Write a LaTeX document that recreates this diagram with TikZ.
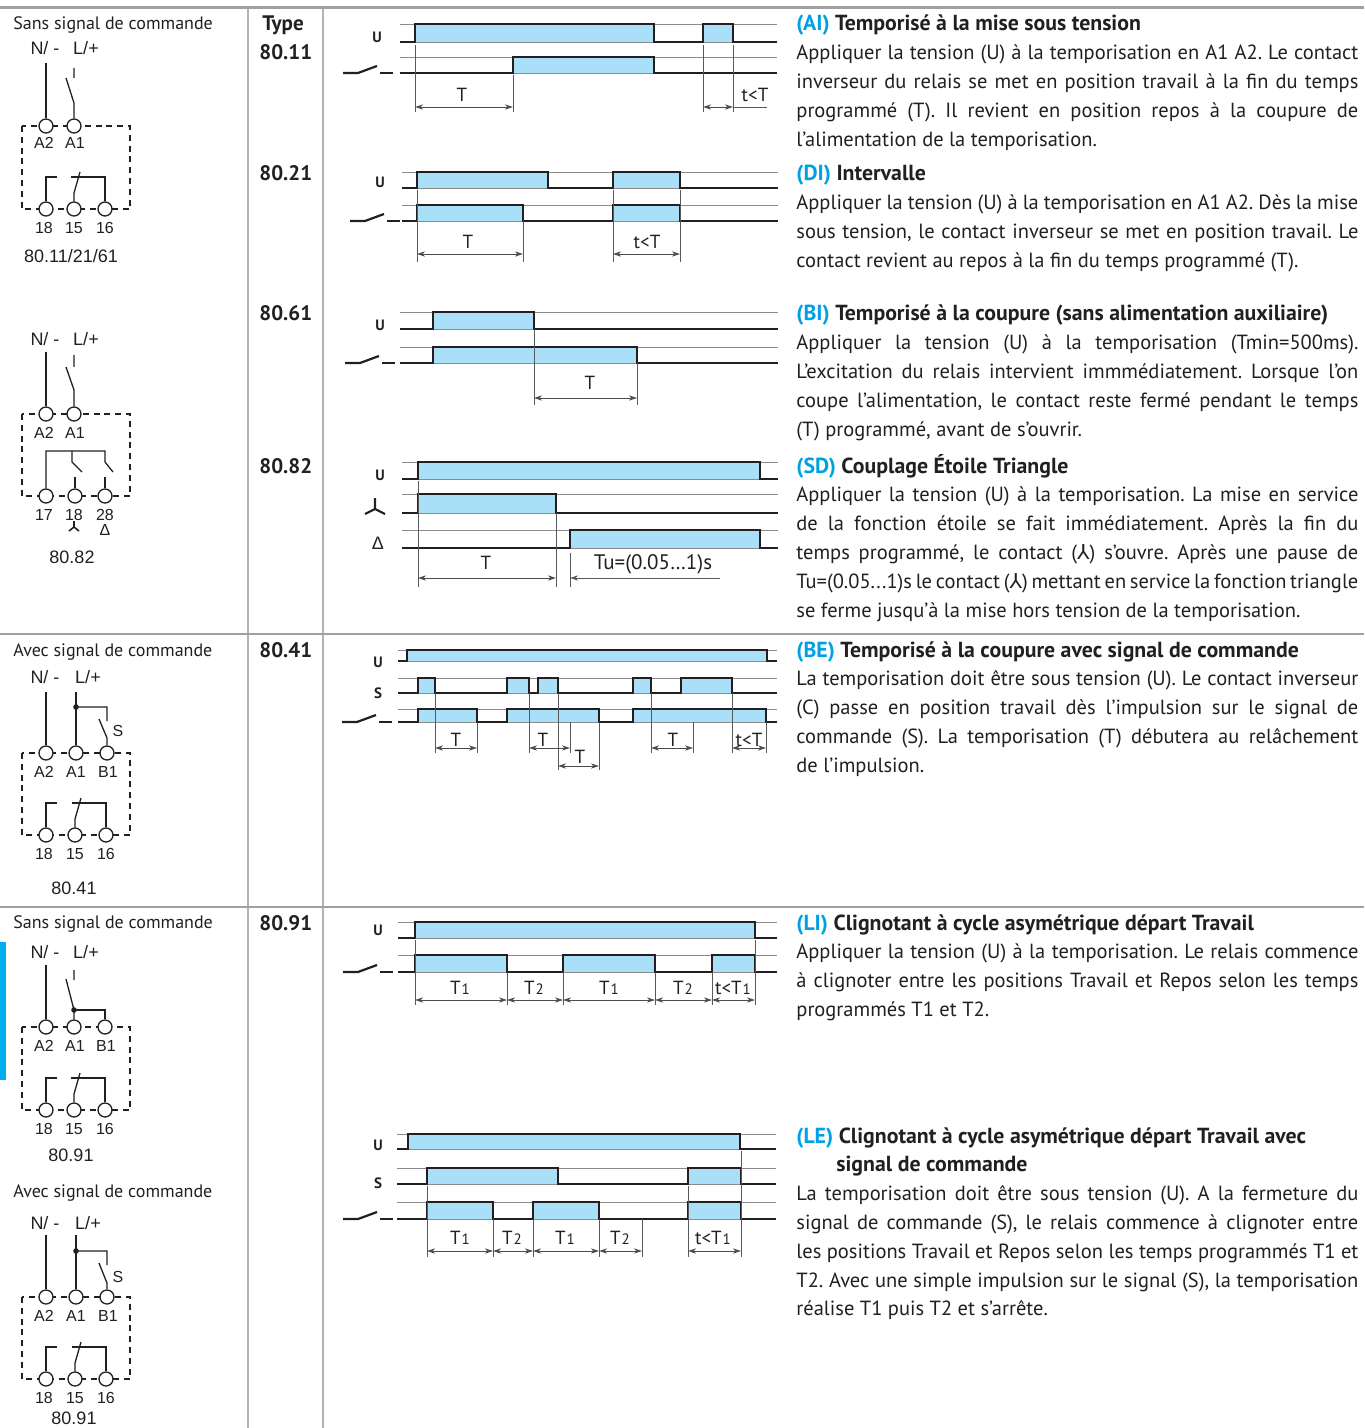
\documentclass[tikz,border=0pt]{standalone}
\usepackage{fontspec}
\setmainfont{PT Sans}
\newfontfamily\arialf{Liberation Sans}
\newfontfamily\djv{DejaVu Sans}
\usetikzlibrary{arrows.meta}
\definecolor{sigblue}{RGB}{170,223,248}
\definecolor{titblue}{RGB}{0,160,227}
\definecolor{rulegray}{RGB}{160,160,160}
\definecolor{txt}{RGB}{35,31,32}
\definecolor{barblue}{RGB}{0,174,239}
\tikzset{
  sigline/.style={line width=1.3pt, line join=miter, txt},
  refline/.style={line width=0.45pt, black!45},
  sigfill/.style={fill=sigblue},
  dimline/.style={line width=0.45pt, black!65},
  dimarr/.style={line width=0.45pt, black!70, {Stealth[length=4pt,width=2.6pt,inset=1.2pt]}-{Stealth[length=4pt,width=2.6pt,inset=1.2pt]}},
  tl/.style={inner sep=0pt, text=txt, font=\fontsize{9.5}{10}\selectfont},
  ul/.style={inner sep=0pt, text=txt, font=\bfseries\fontsize{7.5}{9}\selectfont},
  wire/.style={line width=0.65pt, txt},
  term/.style={circle, draw=txt, fill=white, line width=0.65pt, minimum size=7pt, inner sep=0pt},
  dashbox/.style={line width=1pt, txt, dash pattern=on 3pt off 2.4pt},
  clbl/.style={inner sep=0pt, text=txt, font=\arialf\fontsize{8}{9}\selectfont},
  cnl/.style={inner sep=0pt, text=txt, font=\arialf\fontsize{9}{10}\selectfont},
  hdr/.style={anchor=base west, inner sep=0pt, text=txt, font=\fontsize{9}{10}\selectfont},
  typ/.style={anchor=base west, inner sep=0pt, text=txt, font=\bfseries\fontsize{10.5}{12}\selectfont},
  rule/.style={line width=1.2pt, rulegray},
  vrule/.style={line width=0.6pt, rulegray!80},
}
\newcommand\trow[5]{%
  \foreach \pa/\pb in {#5}{\fill[sigfill] (\pa,#2) rectangle (\pb,#1);}
  \draw[refline] (#3,#2) -- (#4,#2) (#3,#1) -- (#4,#1);
  \draw[sigline] (#3,#1) \foreach \pa/\pb in {#5}{ -- (\pa,#1) -- (\pa,#2) -- (\pb,#2) -- (\pb,#1)} -- (#4,#1);
}
\newcommand\csym[2]{\draw[sigline, line width=1.1pt] (#1,#2) -- ++(15,0) -- ++(19,-7);
  \draw[sigline, line width=1.1pt] ({#1+37},#2) -- ++(13,0);}
\newcommand\darr[3]{\draw[dimarr] (#1,#3) -- (#2,#3);}
\newcommand\vl[3]{\draw[dimline] (#1,#2) -- (#1,#3);}
\newcommand\jl[1]{\hbox to\hsize{\spaceskip=0.26em plus 0.8em minus 0.12em #1}}
\newcommand\jls[1]{\hbox to\hsize{\spaceskip=0.14em plus 0.5em minus 0.05em #1}}
\newcommand\lastl[1]{\hbox{#1}}
\newcommand\ttl[2]{\hbox{\fontsize{10.9}{14.4}\selectfont\bfseries\textcolor{titblue}{(#1)} #2}}
\newcommand\para[2]{\node[anchor=base west, inner sep=0pt, text=txt] at (796,#1) {\vtop{\hsize=281pt \frenchspacing\fontsize{10.25}{14.4}\selectfont #2}};}
\newcommand\Tn[1]{T\kern0.5pt{\fontsize{7.5}{8}\selectfont #1}}
\newcommand\stsym{{\djv ⅄}}
% contacts 18/15/16: Yb, x18, x15, x16, prefix
\newcommand\cont[5]{%
  \node[term] (#5t18) at (#2,#1) {};
  \node[term] (#5t15) at (#3,#1) {};
  \node[term] (#5t16) at (#4,#1) {};
  \draw[wire] (#5t18.north) |- ({#2+11},{#1-32});
  \draw[wire] (#5t15.north) -- (#3,{#1-16}) -- ({#3+6},{#1-37});
  \draw[wire] ({#3-3},{#1-32}) -| (#5t16.north);
  \node[clbl] at ({#2-2},{#1+19}) {18};
  \node[clbl] at (#3,{#1+19}) {15};
  \node[clbl] at (#4,{#1+19}) {16};
}
\begin{document}
\begin{tikzpicture}[x=0.5pt,y=-0.5pt]
\useasboundingbox (0,0) rectangle (1364,1428);
% ---------- table rules ----------
\draw[vrule] (248,8) -- (248,1428);
\draw[vrule] (323,8) -- (323,1428);
\draw[rule, line width=1.5pt] (0,8) -- (1364,8);
\draw[rule] (0,634) -- (1364,634);
\draw[rule] (0,907) -- (1364,907);
\fill[barblue] (0,942) rectangle (6,1080);
% ---------- headers ----------
\node[hdr] at (13,30) {Sans signal de commande};
\node[hdr] at (13,656) {Avec signal de commande};
\node[hdr] at (13,928) {Sans signal de commande};
\node[hdr] at (13,1197) {Avec signal de commande};
\node[typ] at (262,31) {Type};
\node[typ] at (259,60) {80.11};
\node[typ] at (259,181) {80.21};
\node[typ] at (259,321) {80.61};
\node[typ] at (259,473) {80.82};
\node[typ] at (259,657) {80.41};
\node[typ] at (259,930) {80.91};
% ---------- circuit 1 ----------
\node[cnl] at (45,48) {N/ -};
\node[cnl] at (86,48) {L/+};
\draw[dashbox] (22,126) rectangle (130,209);
\node[term] (c1a2) at (46,126) {};
\node[term] (c1a1) at (74,126) {};
\draw[wire] (46,63) -- (c1a2.north);
\draw[wire] (74,68) -- (74,78) (66,78) -- (74,103) -- (c1a1.north);
\node[clbl] at (44,143) {A2};
\node[clbl] at (75,143) {A1};
\cont{209}{46}{74}{105}{c1}
\node[cnl] at (71,256) {80.11/21/61};
% ---------- circuit 2 ----------
\node[cnl] at (45,339) {N/ -};
\node[cnl] at (86,339) {L/+};
\draw[dashbox] (22,414) rectangle (130,496);
\node[term] (c2a2) at (46,414) {};
\node[term] (c2a1) at (74,414) {};
\draw[wire] (46,352) -- (c2a2.north);
\draw[wire] (74,355) -- (74,367) (66,367) -- (74,390) -- (c2a1.north);
\node[clbl] at (44,433) {A2};
\node[clbl] at (75,433) {A1};
\node[term] (c2t17) at (46,496) {};
\node[term] (c2t18) at (75,496) {};
\node[term] (c2t28) at (105,496) {};
\draw[wire] (c2t17.north) |- (105,451) -- (105,462) -- (113,472);
\draw[wire] (72,451) -- (72,462) -- (82,472);
\draw[wire] (c2t18.north) -- (75,477);
\draw[wire] (c2t28.north) -- (105,477);
\node[clbl] at (44,515) {17};
\node[clbl] at (74,515) {18};
\node[clbl] at (105,515) {28};
\draw[wire, line width=0.8pt] (74,521) -- (74,527) -- (69,531) (74,527) -- (79,531);
\node[clbl] at (105,530) {Δ};
\node[cnl] at (72,557) {80.82};
% ---------- circuit 3 ----------
\node[cnl] at (45,677) {N/ -};
\node[cnl] at (88,677) {L/+};
\draw[dashbox] (22,753) rectangle (130,835);
\node[term] (c3a2) at (46,753) {};
\node[term] (c3a1) at (76,753) {};
\node[term] (c3b1) at (107,753) {};
\draw[wire] (46,692) -- (c3a2.north);
\draw[wire] (76,692) -- (c3a1.north);
\fill[txt] (76,707) circle (1.4pt);
\draw[wire] (76,707) -- (107,707) -- (107,721) (99,719) -- (107,738) -- (c3b1.north);
\node[clbl] at (118,731) {S};
\node[clbl] at (44,772) {A2};
\node[clbl] at (76,772) {A1};
\node[clbl] at (108,772) {B1};
\cont{835}{46}{75}{106}{c3}
\node[cnl] at (74,888) {80.41};
% ---------- circuit 4 ----------
\node[cnl] at (45,952) {N/ -};
\node[cnl] at (86,952) {L/+};
\draw[dashbox] (22,1027) rectangle (130,1110);
\node[term] (c4a2) at (46,1027) {};
\node[term] (c4a1) at (74,1027) {};
\node[term] (c4b1) at (105,1027) {};
\draw[wire] (46,965) -- (c4a2.north);
\draw[wire] (74,970) -- (74,980) (66,979) -- (74,1010) -- (c4a1.north);
\fill[txt] (74,1010) circle (1.4pt);
\draw[wire] (74,1010) -| (c4b1.north);
\node[clbl] at (44,1046) {A2};
\node[clbl] at (75,1046) {A1};
\node[clbl] at (106,1046) {B1};
\cont{1110}{46}{74}{105}{c4}
\node[cnl] at (71,1155) {80.91};
% ---------- circuit 5 ----------
\node[cnl] at (45,1223) {N/ -};
\node[cnl] at (88,1223) {L/+};
\draw[dashbox] (22,1297) rectangle (130,1379);
\node[term] (c5a2) at (46,1297) {};
\node[term] (c5a1) at (76,1297) {};
\node[term] (c5b1) at (107,1297) {};
\draw[wire] (46,1235) -- (c5a2.north);
\draw[wire] (76,1235) -- (c5a1.north);
\fill[txt] (76,1251) circle (1.4pt);
\draw[wire] (76,1251) -- (107,1251) -- (107,1265) (99,1263) -- (107,1283) -- (c5b1.north);
\node[clbl] at (118,1277) {S};
\node[clbl] at (44,1316) {A2};
\node[clbl] at (76,1316) {A1};
\node[clbl] at (108,1316) {B1};
\cont{1379}{46}{75}{106}{c5}
\node[cnl] at (74,1418) {80.91};
% ---------- timing AI ----------
\node[ul] at (377,37) {U};
\trow{42}{24}{400}{777}{415/654,703/733}
\trow{73}{57}{400}{777}{513/654}
\csym{343}{73}
\vl{415}{45}{112} \vl{513}{75}{112} \vl{703}{45}{112} \vl{733}{45}{112}
\darr{415}{513}{107} \darr{703}{733}{107}
\draw[dimline] (733,107) -- (767,107);
\node[tl] at (462,95) {T};
\node[tl] at (755,95) {t<T};
% ---------- timing DI ----------
\node[ul] at (380,182) {U};
\trow{188}{172}{402}{778}{417/548,613/680}
\trow{221}{205}{402}{778}{417/523,613/680}
\csym{350}{221}
\vl{417}{190}{262} \vl{523}{221}{262} \vl{613}{190}{262} \vl{680}{190}{262}
\darr{417}{523}{254} \darr{613}{680}{254}
\node[tl] at (468,242) {T};
\node[tl] at (647,242) {t<T};
% ---------- timing BI ----------
\node[ul] at (380,325) {U};
\trow{329}{312}{400}{778}{433/534}
\trow{363}{347}{400}{778}{433/637}
\csym{345}{363}
\vl{534}{329}{405} \vl{637}{363}{405}
\darr{534}{637}{398}
\node[tl] at (590,383) {T};
% ---------- timing SD ----------
\node[ul] at (380,475) {U};
\draw[sigline, line width=1.1pt] (375,498) -- (375,509) -- (365,514) (375,509) -- (385,514);
\node[tl, font=\arialf\fontsize{9}{10}\selectfont] at (378,543) {Δ};
\trow{479}{462}{402}{778}{418/760}
\trow{513}{494}{402}{778}{418/556}
\trow{548}{530}{402}{778}{570/760}
\vl{418}{481}{587} \vl{556}{513}{587} \vl{570}{553}{587}
\darr{418}{556}{578}
\draw[dimline, {Stealth[length=4pt,width=2.6pt,inset=1.2pt]}-] (570,578) -- (720,578);
\node[tl] at (486,563) {T};
\node[tl, font=\fontsize{10.5}{11}\selectfont] at (653,564) {Tu=(0.05…1)s};
% ---------- timing BE ----------
\node[ul] at (378,662) {U};
\node[ul] at (378,693) {S};
\trow{661}{650}{398}{777}{407/767}
\trow{693}{678}{398}{777}{418/435,507/529,538/558,633/651,681/732}
\trow{722}{709}{398}{777}{418/477,507/599,633/766}
\csym{342}{722}
\vl{435}{693}{753} \vl{477}{722}{753} \vl{529}{693}{753} \vl{570}{722}{753}
\vl{558}{693}{770} \vl{599}{722}{770} \vl{651}{693}{753} \vl{693}{722}{753}
\vl{732}{693}{753} \vl{766}{722}{753}
\darr{435}{477}{748} \darr{529}{570}{748} \darr{558}{599}{766}
\darr{651}{693}{748} \darr{732}{766}{748}
\node[tl] at (456,740) {T};
\node[tl] at (543,740) {T};
\node[tl] at (580,757) {T};
\node[tl] at (673,740) {T};
\node[tl] at (749,740) {t<T};
% ---------- timing LI ----------
\node[ul] at (378,930) {U};
\trow{938}{922}{398}{777}{415/755}
\trow{972}{955}{398}{777}{415/507,563/655,712/755}
\csym{343}{972}
\vl{415}{940}{1005} \vl{507}{972}{1005} \vl{563}{972}{1005} \vl{655}{972}{1005}
\vl{712}{972}{1005} \vl{755}{940}{1005}
\darr{415}{507}{1000} \darr{507}{563}{1000} \darr{563}{655}{1000}
\darr{655}{712}{1000} \darr{712}{755}{1000}
\node[tl] at (460,988) {\Tn{1}};
\node[tl] at (534,988) {\Tn{2}};
\node[tl] at (609,988) {\Tn{1}};
\node[tl] at (683,988) {\Tn{2}};
\node[tl] at (733,988) {t<\Tn{1}};
% ---------- timing LE ----------
\node[ul] at (378,1145) {U};
\node[ul] at (378,1183) {S};
\trow{1149}{1134}{397}{776}{408/740}
\trow{1184}{1168}{397}{776}{427/558,688/741}
\trow{1219}{1202}{397}{776}{427/493,533/599,688/741}
\csym{343}{1219}
\vl{427}{1186}{1257} \vl{493}{1219}{1257} \vl{533}{1219}{1257} \vl{599}{1219}{1257}
\vl{642}{1219}{1257} \vl{688}{1186}{1257} \vl{741}{1151}{1257}
\darr{427}{493}{1251} \darr{493}{533}{1251} \darr{533}{599}{1251}
\darr{599}{642}{1251} \darr{688}{741}{1251}
\node[tl] at (460,1238) {\Tn{1}};
\node[tl] at (512,1238) {\Tn{2}};
\node[tl] at (565,1238) {\Tn{1}};
\node[tl] at (620,1238) {\Tn{2}};
\node[tl] at (713,1238) {t<\Tn{1}};
% ---------- texts ----------
\para{31}{%
\ttl{AI}{Temporisé à la mise sous tension}
\jl{Appliquer la tension (U) à la temporisation en A1 A2. Le contact}
\jl{inverseur du relais se met en position travail à la fin du temps}
\jl{programmé (T). Il revient en position repos à la coupure de}
\lastl{l'alimentation de la temporisation.}}
\para{181}{%
\ttl{DI}{Intervalle}
\jl{Appliquer la tension (U) à la temporisation en A1 A2. Dès la mise}
\jl{sous tension, le contact inverseur se met en position travail. Le}
\lastl{contact revient au repos à la fin du temps programmé (T).}}
\para{321}{%
\ttl{BI}{Temporisé à la coupure (sans alimentation auxiliaire)}
\jl{Appliquer la tension (U) à la temporisation (Tmin=500ms).}
\jl{L’excitation du relais intervient immmédiatement. Lorsque l'on}
\jl{coupe l’alimentation, le contact reste fermé pendant le temps}
\lastl{(T) programmé, avant de s’ouvrir.}}
\para{473}{%
\ttl{SD}{Couplage Étoile Triangle}
\jl{Appliquer la tension (U) à la temporisation. La mise en service}
\jl{de la fonction étoile se fait immédiatement. Après la fin du}
\jl{temps programmé, le contact (\stsym) s’ouvre. Après une pause de}
\jls{Tu=(0.05...1)s le contact (\stsym) mettant en service la fonction triangle}
\lastl{se ferme jusqu’à la mise hors tension de la temporisation.}}
\para{657}{%
\ttl{BE}{Temporisé à la coupure avec signal de commande}
\jl{La temporisation doit être sous tension (U). Le contact inverseur}
\jl{(C) passe en position travail dès l'impulsion sur le signal de}
\jl{commande (S). La temporisation (T) débutera au relâchement}
\lastl{de l'impulsion.}}
\para{930}{%
\ttl{LI}{Clignotant à cycle asymétrique départ Travail}
\jl{Appliquer la tension (U) à la temporisation. Le relais commence}
\jl{à clignoter entre les positions Travail et Repos selon les temps}
\lastl{programmés T1 et T2.}}
\para{1143}{%
\ttl{LE}{Clignotant à cycle asymétrique départ Travail avec}
\hbox{\hspace{20pt}\fontsize{10.9}{14.4}\selectfont\bfseries signal de commande}
\jl{La temporisation doit être sous tension (U). A la fermeture du}
\jl{signal de commande (S), le relais commence à clignoter entre}
\jl{les positions Travail et Repos selon les temps programmés T1 et}
\jl{T2. Avec une simple impulsion sur le signal (S), la temporisation}
\lastl{réalise T1 puis T2 et s’arrête.}}
\end{tikzpicture}
\end{document}
